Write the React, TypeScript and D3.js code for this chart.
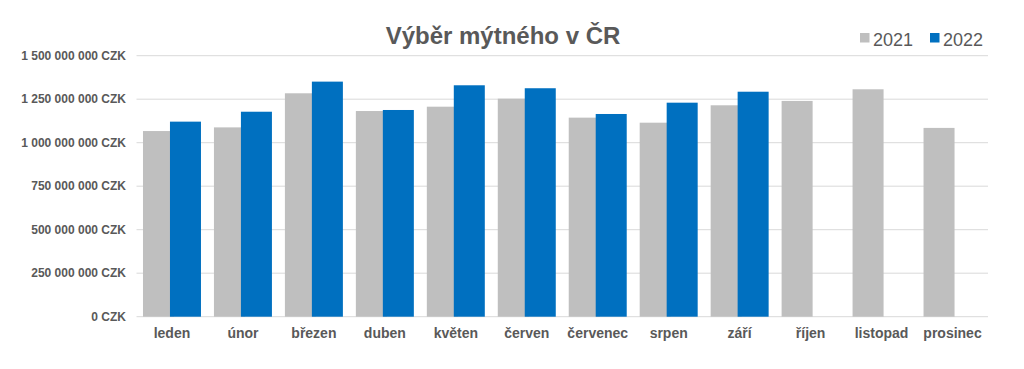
import React from "react";
import * as d3 from "d3";

const months = ["leden", "únor", "březen", "duben", "květen", "červen", "červenec", "srpen", "září", "říjen", "listopad", "prosinec"];
const values2021 = [1067e6, 1088e6, 1284e6, 1182e6, 1207e6, 1253e6, 1144e6, 1115e6, 1215e6, 1240e6, 1307e6, 1085e6];
const values2022 = [1121e6, 1178e6, 1351e6, 1188e6, 1330e6, 1313e6, 1165e6, 1230e6, 1293e6, null, null, null];
const yTicks = [0, 250e6, 500e6, 750e6, 1000e6, 1250e6, 1500e6];
const seriesNames = ["2021", "2022"];
const seriesColors = ["#BFBFBF", "#0070C0"];
const title = "Výběr mýtného v ČR";

const W = 1024, H = 369;
const left = 136.5, right = 988, top = 55.7, bottom = 316.7;
const font = "'Liberation Sans', Arial, sans-serif";
const textColor = "#595959";

function fmt(v: number) {
  const s = d3.format(",")(v).replace(/,/g, " ");
  return s + " CZK";
}

export default function App() {
  const x = d3.scaleBand().domain(months).range([left, right]).paddingInner(0).paddingOuter(0);
  const y = d3.scaleLinear().domain([0, 1500e6]).range([bottom, top]);
  const bw = x.bandwidth();
  const barW = bw * 0.437;
  const overlap = barW * 0.13;
  const groupW = barW * 2 - overlap;
  const series = [values2021, values2022];

  return (
    <svg width={W} height={H} style={{ position: "fixed", left: 0, top: 0, background: "#fff" }} fontFamily={font}>
      <rect x={0} y={0} width={W} height={H} fill="#fff" />
      <text x={503} y={44} textAnchor="middle" fontSize={24} fontWeight="bold" fill={textColor}>{title}</text>
      {/* legend */}
      {seriesNames.map((n, i) => {
        const lx = i === 0 ? 860 : 930;
        return (
          <g key={n}>
            <rect x={lx} y={33} width={9.5} height={9.5} fill={seriesColors[i]} />
            <text x={lx + 13} y={46} fontSize={18} fill={textColor}>{n}</text>
          </g>
        );
      })}
      {/* grid */}
      {yTicks.map((t) => (
        <g key={t}>
          <line x1={left} x2={right} y1={y(t)} y2={y(t)} stroke="#D9D9D9" strokeWidth={1} />
          <text x={126} y={y(t) + 4.2} textAnchor="end" fontSize={12} fontWeight="bold" fill={textColor}>{fmt(t)}</text>
        </g>
      ))}
      {/* bars */}
      {series.map((vals, si) =>
        vals.map((v, mi) => {
          if (v == null) return null;
          const cx = (x(months[mi]) as number) + bw / 2;
          const bx = cx - groupW / 2 + si * (barW - overlap);
          return <rect key={si + "-" + mi} x={bx} y={y(v)} width={barW} height={bottom - y(v)} fill={seriesColors[si]} />;
        })
      )}
      {/* category labels */}
      {months.map((m) => (
        <text key={m} x={(x(m) as number) + bw / 2} y={338} textAnchor="middle" fontSize={14} fontWeight="bold" fill={textColor}>{m}</text>
      ))}
    </svg>
  );
}
